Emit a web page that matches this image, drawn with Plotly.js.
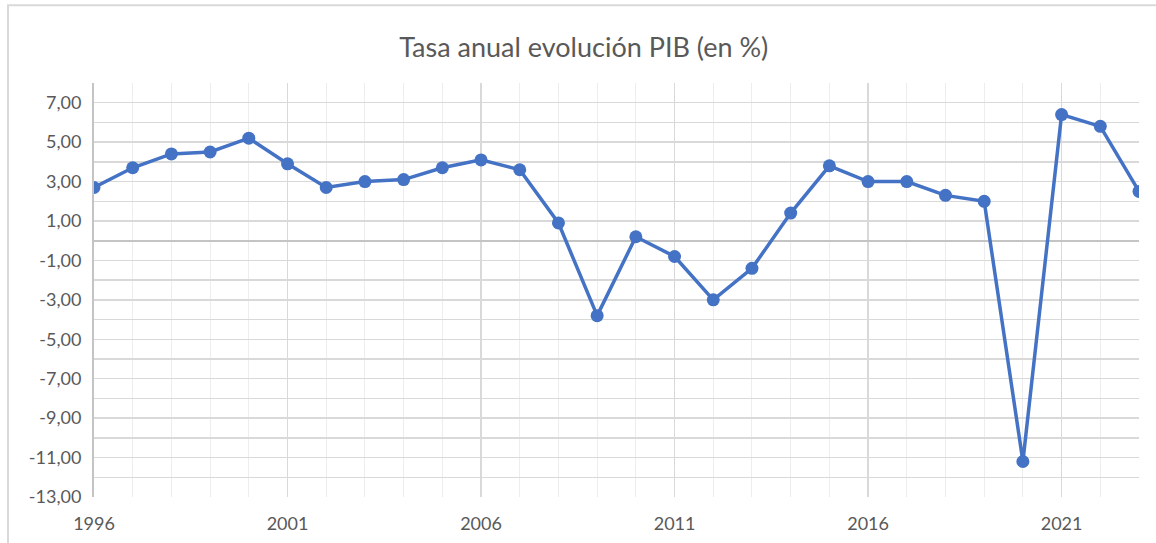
<!DOCTYPE html>
<html>
<head>
<meta charset="utf-8">
<script src="https://cdn.plot.ly/plotly-3.0.1.min.js"></script>
<style>html,body{margin:0;padding:0;background:#fff;}#chart{width:1156px;height:543px;}</style>
</head>
<body>
<div id="chart"></div>
<script>
const years = [1996,1997,1998,1999,2000,2001,2002,2003,2004,2005,2006,2007,2008,2009,2010,2011,2012,2013,2014,2015,2016,2017,2018,2019,2020,2021,2022,2023];
const growth = [2.7,3.7,4.4,4.5,5.2,3.9,2.7,3.0,3.1,3.7,4.1,3.6,0.9,-3.8,0.2,-0.8,-3.0,-1.4,1.4,3.8,3.0,3.0,2.3,2.0,-11.2,6.4,5.8,2.5];
const xTicks = [1996,2001,2006,2011,2016,2021];
const yTicks = [7,5,3,1,-1,-3,-5,-7,-9,-11,-13];
const titleText = 'Tasa anual evolución PIB (en %)';

const font = 'Lato, "Open Sans", sans-serif';
const trace = {
  x: years, y: growth, type: 'scatter', mode: 'lines+markers',
  line: {color: '#4472C4', width: 3.5},
  marker: {color: '#4472C4', size: 13},
  hoverinfo: 'x+y'
};
const layout = {
  width: 1156, height: 543,
  paper_bgcolor: '#fff', plot_bgcolor: '#fff',
  margin: {l: 94, r: 17, t: 83, b: 46},
  separators: ',.',
  showlegend: false,
  title: {text: titleText, x: 0.505, xref: 'container', y: 0.913, yanchor: 'middle',
          font: {family: font, size: 27, color: '#595959'}},
  xaxis: {
    range: [1996, 2023], tickvals: xTicks, ticktext: xTicks.map(String),
    showgrid: true, gridcolor: '#d9d9d9', gridwidth: 1.5,
    minor: {dtick: 1, tick0: 1996, showgrid: true, gridcolor: '#ededed', gridwidth: 1},
    zeroline: false, showline: false, ticks: '', ticklabelstandoff: 14,
    tickfont: {family: font, size: 18, color: '#595959'},
    fixedrange: true
  },
  yaxis: {
    range: [-13, 8], tickvals: yTicks,
    ticktext: yTicks.map(v => v.toFixed(2).replace('.', ',')),
    showgrid: true, gridcolor: '#d9d9d9', gridwidth: 1.5,
    minor: {dtick: 1, tick0: -13, showgrid: true, gridcolor: '#d9d9d9', gridwidth: 1.5},
    zeroline: true, zerolinecolor: '#c4c4c4', zerolinewidth: 2,
    showline: true, linecolor: '#c4c4c4', linewidth: 2,
    ticks: '', ticklabelstandoff: 7,
    tickfont: {family: font, size: 18, color: '#595959'},
    fixedrange: true
  },
  shapes: [{type: 'rect', xref: 'paper', yref: 'paper', layer: 'below',
            x0: -0.0823, x1: 1.1, y0: -0.2, y1: 1.188,
            line: {color: '#d9d9d9', width: 2}, fillcolor: 'rgba(0,0,0,0)'}]
};
Plotly.newPlot('chart', [trace], layout, {displayModeBar: false, staticPlot: true});
</script>
</body>
</html>
